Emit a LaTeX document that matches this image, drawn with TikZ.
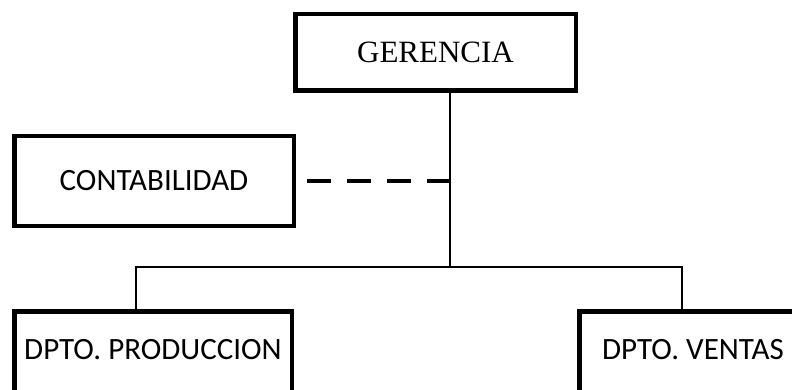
\documentclass[tikz,border=0pt]{standalone}
\usepackage{fontspec}
\setmainfont{Carlito}
\newfontfamily\timesfont{Liberation Serif}
\usetikzlibrary{positioning}

\begin{document}
\begin{tikzpicture}[x=1pt,y=-1pt,
  box/.style={draw,line width=4.5pt,inner sep=0pt,font=\fontsize{31}{37}\selectfont},
  dept/.style={box,minimum height=89.5pt,text depth=14pt},
  link/.style={draw,line width=1.6pt},
  staff/.style={draw,line width=4pt,dash pattern=on 24pt off 16pt}]
  \useasboundingbox (0,0) rectangle (792,390);
  \clip (0,0) rectangle (792,390);
  % boxes
  \node [box,minimum width=280.5pt,minimum height=76.5pt,font=\timesfont\fontsize{31}{37}\selectfont] (ger) at (435.5,52.5) {GERENCIA};
  \node [box,minimum width=279.5pt,minimum height=89.5pt] (cont) at (154,181) {CONTABILIDAD};
  \node [dept,minimum width=277.5pt] (prod) at (153,356) {DPTO. PRODUCCION};
  \node [dept,minimum width=227.5pt] (vent) at (693,356) {DPTO. VENTAS};
  % bus points
  \coordinate (tee) at (450,267);
  \coordinate (bl) at (136,267);
  \coordinate (br) at (682,267);
  % lines
  \draw [link] (ger.south -| tee) -- (tee);
  \draw [link] (bl |- prod.north) -- (bl) -- (br) -- (br |- vent.north);
  \draw [staff,shorten <=11pt,yshift=3pt] (cont.east) -- (cont.east -| tee);
\end{tikzpicture}
\end{document}
